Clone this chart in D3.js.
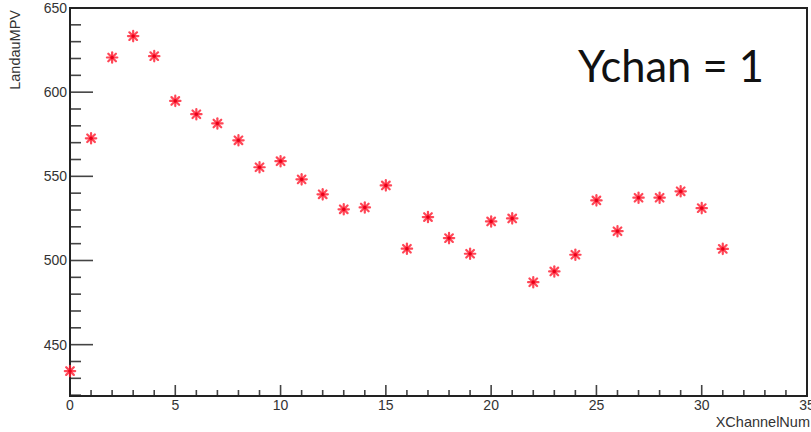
<!DOCTYPE html>
<html><head><meta charset="utf-8">
<script src="https://cdn.jsdelivr.net/npm/d3@7"></script>
<style>body{margin:0;background:#fff}svg{display:block}</style>
</head><body>
<svg id="chart" width="811" height="432"></svg>
<script>
const xChannel = d3.range(0, 32);
const landauMPV = [434.3, 572.6, 620.6, 633.3, 621.4, 594.8, 586.9, 581.4, 571.4, 555.4,
  559.0, 548.2, 539.3, 530.4, 531.5, 544.6, 507.0, 525.8, 513.3, 504.0,
  523.2, 525.0, 487.1, 493.5, 503.4, 535.7, 517.4, 537.3, 537.3, 541.1,
  531.1, 506.9];
const xTickLabels = [0, 5, 10, 15, 20, 25, 30, 35];
const yTickLabels = [450, 500, 550, 600, 650];
const xTitle = "XChannelNum";
const yTitle = "LandauMPV";
const note = "Ychan = 1";

const svg = d3.select("#chart");
const L = 70, R = 807, T = 8, B = 396;
const x = d3.scaleLinear().domain([0, 35]).range([L, R]);
const y = d3.scaleLinear().domain([419.5, 650]).range([B, T]);

const tickCol = "#444", labCol = "#333", font = "Liberation Sans, Arial, sans-serif";

const yMinor = d3.range(420, 651, 10);
svg.append("g").selectAll("line").data(yMinor).join("line")
  .attr("x1", L).attr("x2", d => L + (d % 50 === 0 ? 23 : 11))
  .attr("y1", d => y(d)).attr("y2", d => y(d))
  .attr("stroke", tickCol).attr("stroke-width", 1.6);
const xMinor = d3.range(0, 36, 1);
svg.append("g").selectAll("line").data(xMinor).join("line")
  .attr("x1", d => x(d)).attr("x2", d => x(d))
  .attr("y1", B).attr("y2", d => B - (d % 5 === 0 ? 11 : 6))
  .attr("stroke", tickCol).attr("stroke-width", 1.6);

svg.append("rect").attr("x", L).attr("y", T).attr("width", R - L).attr("height", B - T)
  .attr("fill", "none").attr("stroke", "#222").attr("stroke-width", 2);

svg.append("g").selectAll("text").data(yTickLabels).join("text")
  .attr("x", L - 3).attr("y", d => y(d) + 5).attr("text-anchor", "end")
  .attr("font-family", font).attr("font-size", 14).attr("fill", labCol).text(d => d);
svg.append("g").selectAll("text").data(xTickLabels).join("text")
  .attr("x", d => x(d)).attr("y", 410).attr("text-anchor", "middle")
  .attr("font-family", font).attr("font-size", 14).attr("fill", labCol).text(d => d);

svg.append("text").attr("x", 810).attr("y", 427).attr("text-anchor", "end")
  .attr("font-family", font).attr("font-size", 14.5).attr("fill", labCol).text(xTitle);
svg.append("text").attr("transform", "translate(20,10) rotate(-90)").attr("text-anchor", "end")
  .attr("font-family", font).attr("font-size", 14.5).attr("fill", labCol).text(yTitle);

svg.append("text").attr("x", 578).attr("y", 82)
  .attr("font-family", "Lato, Liberation Sans, sans-serif").attr("font-size", 43.5).attr("fill", "#111").text(note);

const pts = xChannel.map((c, i) => ({ x: c, y: landauMPV[i] }));
const g = svg.append("g").selectAll("g").data(pts).join("g")
  .attr("transform", d => `translate(${x(d.x)},${y(d.y)})`);
const s = 5.2, dgl = 3.8;
[[-s, 0, s, 0], [0, -s, 0, s], [-dgl, -dgl, dgl, dgl], [-dgl, dgl, dgl, -dgl]].forEach(l => {
  g.append("line").attr("x1", l[0]).attr("y1", l[1]).attr("x2", l[2]).attr("y2", l[3])
    .attr("stroke", "#ff1a2e").attr("stroke-width", 2.2).attr("stroke-linecap", "round").attr("opacity", 0.8);
});
g.append("circle").attr("r", 1.6).attr("fill", "#e8001a");
</script>
</body></html>
